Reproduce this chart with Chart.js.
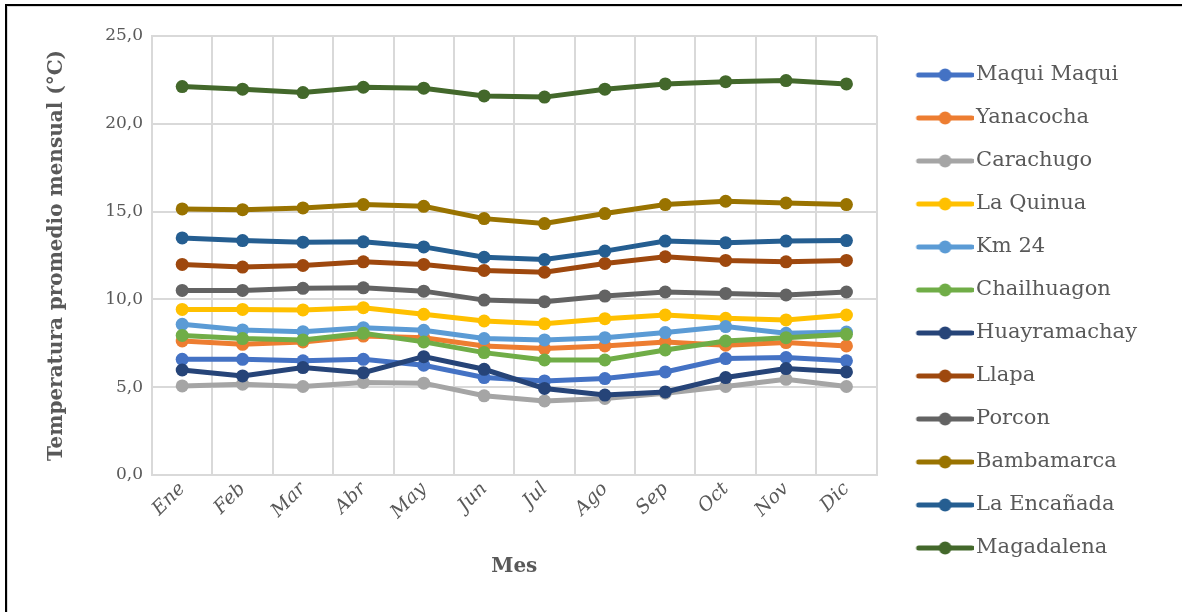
<!DOCTYPE html>
<html>
<head>
<meta charset="utf-8">
<script src="https://cdn.jsdelivr.net/npm/chart.js@4.4.1/dist/chart.umd.min.js"></script>
<style>
  html, body { margin: 0; padding: 0; background: #fff; }
  #wrap { position: relative; width: 1182px; height: 612px; }
  #marco {
    position: absolute; left: 5px; top: 4px; width: 1175px; height: 606px;
    border-left: 2px solid #000; border-top: 2px solid #000;
    border-right: 1px solid #d6d6d6; border-bottom: 1px solid #d6d6d6;
    box-shadow: inset 1px 1px 0 #d9d9d9;
    pointer-events: none;
  }
</style>
</head>
<body>
<div id="wrap">
  <canvas id="chart_temperaturaMensual"></canvas>
  <div id="marco"></div>
</div>
<script>
// temperatura promedio mensual por estacion (°C)
var meses = ['Ene', 'Feb', 'Mar', 'Abr', 'May', 'Jun', 'Jul', 'Ago', 'Sep', 'Oct', 'Nov', 'Dic'];

var maquiMaqui   = [6.59, 6.59, 6.50, 6.59, 6.25, 5.55, 5.36, 5.49, 5.87, 6.63, 6.69, 6.50];
var yanacocha    = [7.63, 7.44, 7.58, 7.91, 7.82, 7.35, 7.20, 7.35, 7.58, 7.39, 7.54, 7.35];
var carachugo    = [5.07, 5.17, 5.04, 5.27, 5.23, 4.51, 4.22, 4.36, 4.66, 5.04, 5.45, 5.04];
var laQuinua     = [9.43, 9.43, 9.40, 9.53, 9.15, 8.77, 8.62, 8.90, 9.11, 8.92, 8.83, 9.11];
var km24         = [8.58, 8.26, 8.16, 8.39, 8.24, 7.77, 7.69, 7.82, 8.11, 8.45, 8.07, 8.14];
var chailhuagon  = [7.95, 7.77, 7.69, 8.07, 7.58, 6.97, 6.55, 6.55, 7.12, 7.63, 7.82, 8.01];
var huayramachay = [5.98, 5.64, 6.12, 5.83, 6.74, 6.02, 4.93, 4.55, 4.73, 5.55, 6.06, 5.87];
var llapa        = [11.99, 11.84, 11.93, 12.14, 11.99, 11.65, 11.55, 12.05, 12.43, 12.22, 12.14, 12.22];
var porcon       = [10.51, 10.51, 10.63, 10.66, 10.47, 9.96, 9.87, 10.19, 10.42, 10.34, 10.25, 10.42];
var bambamarca   = [15.15, 15.11, 15.21, 15.40, 15.30, 14.60, 14.32, 14.89, 15.40, 15.59, 15.49, 15.40];
var laEncanada   = [13.50, 13.35, 13.26, 13.28, 12.99, 12.40, 12.27, 12.75, 13.32, 13.22, 13.32, 13.35];
var magadalena   = [22.12, 21.97, 21.78, 22.08, 22.03, 21.59, 21.52, 21.97, 22.27, 22.40, 22.46, 22.27];

var estaciones = ['Maqui Maqui', 'Yanacocha', 'Carachugo', 'La Quinua', 'Km 24', 'Chailhuagon',
                  'Huayramachay', 'Llapa', 'Porcon', 'Bambamarca', 'La Encañada', 'Magadalena'];
var series = [maquiMaqui, yanacocha, carachugo, laQuinua, km24, chailhuagon,
              huayramachay, llapa, porcon, bambamarca, laEncanada, magadalena];
var colores = ['#4472C4', '#ED7D31', '#A5A5A5', '#FFC000', '#5B9BD5', '#70AD47',
               '#264478', '#9E480E', '#636363', '#997300', '#255E91', '#43682B'];

var fuente = '"DejaVu Serif", serif';
var gris = '#595959';
var legendSize = 21;
var legendPad = 22;
var legendBox = 67;

// muestra de linea con marcador para la leyenda
function marcaLeyenda(color) {
    var c = document.createElement('canvas');
    c.width = 83;
    c.height = 14;
    var g = c.getContext('2d');
    g.strokeStyle = color;
    g.lineWidth = 5;
    g.lineCap = 'round';
    g.beginPath();
    g.moveTo(28, 7);
    g.lineTo(81, 7);
    g.stroke();
    g.fillStyle = color;
    g.beginPath();
    g.arc(54.5, 7, 6.5, 0, Math.PI * 2);
    g.fill();
    return c;
}
var marcas = colores.map(marcaLeyenda);

// ancho de la leyenda (Chart.js suma 10 px al ancho de columnas)
var mctx = document.createElement('canvas').getContext('2d');
mctx.font = legendSize + 'px ' + fuente;
var textoMax = Math.max.apply(null, estaciones.map(function (s) { return mctx.measureText(s).width; }));
var anchoLeyenda = legendPad + legendBox + legendSize / 2 + textoMax + 10;
var padDerecha = Math.max(0, Math.round(1182 - 877 - anchoLeyenda));

var chart_temperaturaMensual = new Chart(document.getElementById('chart_temperaturaMensual'), {
    type: 'line',
    data: {
        labels: meses,
        datasets: series.map(function (d, i) {
            return {
                label: estaciones[i],
                data: d,
                borderColor: colores[i],
                backgroundColor: colores[i],
                borderWidth: 5,
                pointRadius: 6.5,
                pointHoverRadius: 6.5,
                pointBorderWidth: 0,
                tension: 0,
                order: series.length - i
            };
        })
    },
    options: {
        animation: false,
        responsive: true,
        maintainAspectRatio: false,
        layout: {
            padding: { left: 8, top: 36, right: padDerecha, bottom: 25 }
        },
        plugins: {
            tooltip: { enabled: false },
            legend: {
                position: 'right',
                labels: {
                    usePointStyle: true,
                    pointStyleWidth: legendBox,
                    padding: legendPad,
                    color: gris,
                    font: { family: fuente, size: legendSize },
                    generateLabels: function (chart) {
                        return chart.data.datasets.map(function (ds, i) {
                            return {
                                text: ds.label,
                                datasetIndex: i,
                                pointStyle: marcas[i],
                                fillStyle: ds.borderColor,
                                strokeStyle: ds.borderColor,
                                lineWidth: 0,
                                fontColor: gris,
                                hidden: false
                            };
                        });
                    }
                }
            }
        },
        scales: {
            x: {
                offset: true,
                afterFit: function (scale) { scale.height = 112; },
                grid: { offset: true, color: '#d9d9d9', lineWidth: 2, drawTicks: false },
                border: { color: '#d9d9d9', width: 2 },
                ticks: {
                    color: gris,
                    maxRotation: 45,
                    minRotation: 45,
                    padding: 3,
                    font: { family: fuente, size: 19, style: 'italic' }
                },
                title: {
                    display: true,
                    text: 'Mes',
                    color: gris,
                    padding: { top: 0, bottom: 8 },
                    font: { family: fuente, size: 20, weight: 'bold' }
                }
            },
            y: {
                min: 0,
                max: 25,
                afterFit: function (scale) { scale.width = 144; },
                grid: { color: '#d9d9d9', lineWidth: 2, drawTicks: false },
                border: { color: '#d9d9d9', width: 2 },
                ticks: {
                    stepSize: 5,
                    color: gris,
                    padding: 9,
                    font: { family: fuente, size: 17 },
                    callback: function (v) { return v.toFixed(1).replace('.', ','); }
                },
                title: {
                    display: true,
                    text: 'Temperatura promedio mensual (°C)',
                    color: gris,
                    padding: { top: 37, bottom: 0 },
                    font: { family: fuente, size: 20, weight: 'bold' }
                }
            }
        }
    }
});
</script>
</body>
</html>
